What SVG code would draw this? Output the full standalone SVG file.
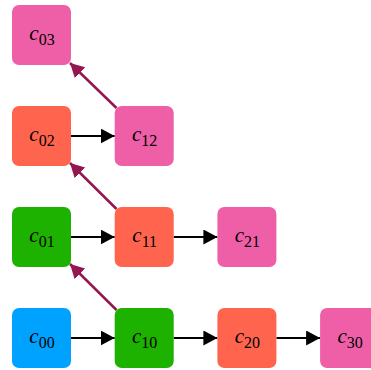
<svg xmlns="http://www.w3.org/2000/svg" width="371" height="370" viewBox="0 0 371 370">
<defs>
<style>
.box{stroke:none}
.blue{fill:#00A2FF}
.green{fill:#1DB100}
.red{fill:#FF644E}
.pink{fill:#EF5FA7}
.lbl{font-family:"Liberation Serif","Times New Roman",serif;font-size:21px;fill:#000;text-anchor:middle}
.lbl .v{font-style:italic}
.lbl .s{font-size:16px}
.h{stroke:#000;stroke-width:2;fill:none;marker-end:url(#ab)}
.d{stroke:#941751;stroke-width:2.5;fill:none;marker-end:url(#ap)}
</style>
<marker id="ab" markerUnits="userSpaceOnUse" markerWidth="15" markerHeight="16" refX="14" refY="7.5" orient="auto">
<path d="M0,0 L14,7.5 L0,15 Z" fill="#000"/>
</marker>
<marker id="ap" markerUnits="userSpaceOnUse" markerWidth="15" markerHeight="16" refX="14" refY="7.5" orient="auto">
<path d="M0,0 L14,7.5 L0,15 Z" fill="#941751"/>
</marker>
</defs>
<rect width="371" height="370" fill="#fff"/>
<g id="connectors">
<line class="h" x1="71" y1="338" x2="114.7" y2="338"/>
<line class="h" x1="173.7" y1="338" x2="217.4" y2="338"/>
<line class="h" x1="276.4" y1="338" x2="320.1" y2="338"/>
<line class="h" x1="71" y1="237" x2="114.7" y2="237"/>
<line class="h" x1="173.7" y1="237" x2="217.4" y2="237"/>
<line class="h" x1="71" y1="136" x2="114.7" y2="136"/>
<line class="d" x1="116.5" y1="310" x2="70" y2="264"/>
<line class="d" x1="116.5" y1="209" x2="70" y2="163"/>
<line class="d" x1="116.5" y1="108" x2="70" y2="63"/>
</g>
<g id="c00"><rect class="box blue" x="12" y="308" width="59" height="60" rx="7"/><text class="lbl" x="42" y="343"><tspan class="v">c</tspan><tspan class="s" dy="5">00</tspan></text></g>
<g id="c10"><rect class="box green" x="114.7" y="308" width="59" height="60" rx="7"/><text class="lbl" x="144.7" y="343"><tspan class="v">c</tspan><tspan class="s" dy="5">10</tspan></text></g>
<g id="c20"><rect class="box red" x="217.4" y="308" width="59" height="60" rx="7"/><text class="lbl" x="247.4" y="343"><tspan class="v">c</tspan><tspan class="s" dy="5">20</tspan></text></g>
<g id="c30"><rect class="box pink" x="320.1" y="308" width="59" height="60" rx="7"/><text class="lbl" x="350.1" y="343"><tspan class="v">c</tspan><tspan class="s" dy="5">30</tspan></text></g>
<g id="c01"><rect class="box green" x="12" y="207" width="59" height="60" rx="7"/><text class="lbl" x="42" y="242"><tspan class="v">c</tspan><tspan class="s" dy="5">01</tspan></text></g>
<g id="c11"><rect class="box red" x="114.7" y="207" width="59" height="60" rx="7"/><text class="lbl" x="144.7" y="242"><tspan class="v">c</tspan><tspan class="s" dy="5">11</tspan></text></g>
<g id="c21"><rect class="box pink" x="217.4" y="207" width="59" height="60" rx="7"/><text class="lbl" x="247.4" y="242"><tspan class="v">c</tspan><tspan class="s" dy="5">21</tspan></text></g>
<g id="c02"><rect class="box red" x="12" y="106" width="59" height="60" rx="7"/><text class="lbl" x="42" y="141"><tspan class="v">c</tspan><tspan class="s" dy="5">02</tspan></text></g>
<g id="c12"><rect class="box pink" x="114.7" y="106" width="59" height="60" rx="7"/><text class="lbl" x="144.7" y="141"><tspan class="v">c</tspan><tspan class="s" dy="5">12</tspan></text></g>
<g id="c03"><rect class="box pink" x="12" y="5" width="59" height="60" rx="7"/><text class="lbl" x="42" y="40"><tspan class="v">c</tspan><tspan class="s" dy="5">03</tspan></text></g>
</svg>
